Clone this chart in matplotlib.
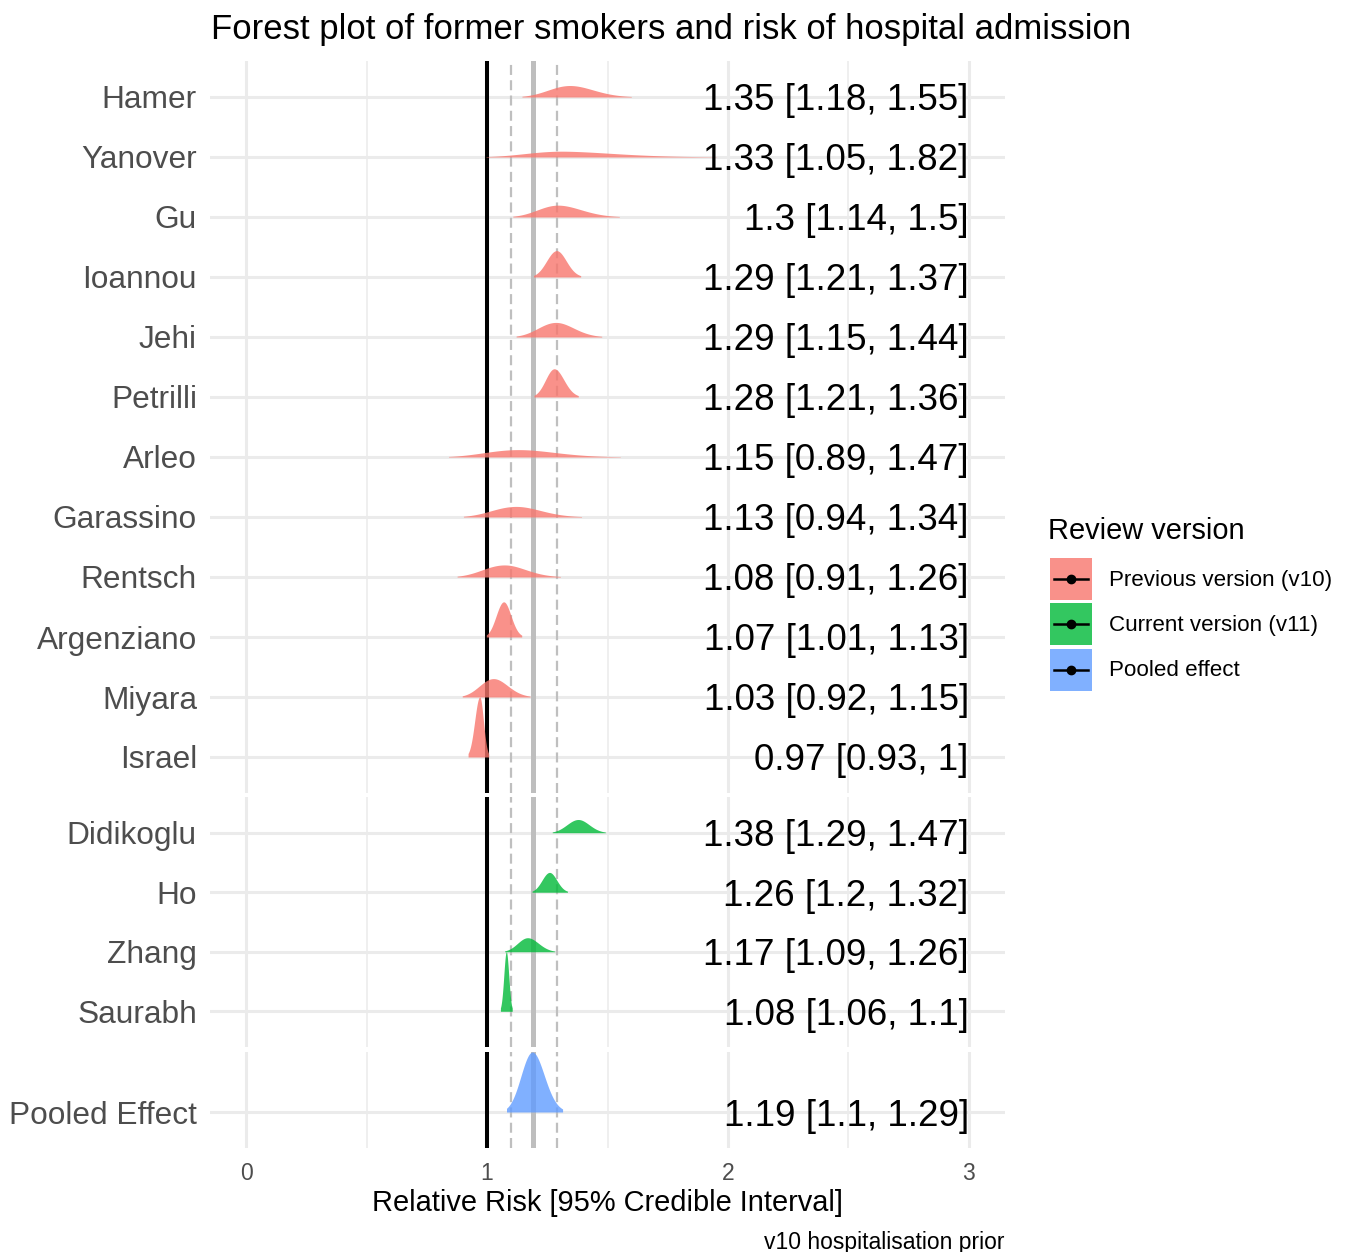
import matplotlib
matplotlib.use("Agg")
import matplotlib.pyplot as plt
from matplotlib.patches import Patch, Rectangle
from matplotlib.lines import Line2D
from matplotlib.legend_handler import HandlerBase
import numpy as np

plt.rcParams['font.family'] = ['Liberation Sans', 'DejaVu Sans']
plt.rcParams['lines.scale_dashes'] = False

# data: median relative risk and 95% credible interval
prev_studies = ["Hamer", "Yanover", "Gu", "Ioannou", "Jehi", "Petrilli", "Arleo",
                "Garassino", "Rentsch", "Argenziano", "Miyara", "Israel"]
prev_est = [1.35, 1.33, 1.30, 1.29, 1.29, 1.28, 1.15, 1.13, 1.08, 1.07, 1.03, 0.97]
prev_lo = [1.18, 1.05, 1.14, 1.21, 1.15, 1.21, 0.89, 0.94, 0.91, 1.01, 0.92, 0.93]
prev_hi = [1.55, 1.82, 1.50, 1.37, 1.44, 1.36, 1.47, 1.34, 1.26, 1.13, 1.15, 1.00]

curr_studies = ["Didikoglu", "Ho", "Zhang", "Saurabh"]
curr_est = [1.38, 1.26, 1.17, 1.08]
curr_lo = [1.29, 1.20, 1.09, 1.06]
curr_hi = [1.47, 1.32, 1.26, 1.10]

pooled_name = ["Pooled Effect"]
pooled_est = [1.19]
pooled_lo = [1.10]
pooled_hi = [1.29]

colors = {"prev": "#F8766D", "curr": "#00BA38", "pool": "#619CFF"}
legend_labels = ["Previous version (v10)", "Current version (v11)", "Pooled effect"]


def fmt(v):
    return "{:g}".format(v)


def density(est, lo, hi):
    # split normal on the log scale, transformed back to the RR scale
    mu = np.log(est)
    s_lo = (mu - np.log(lo)) / 1.96
    s_hi = (np.log(hi) - mu) / 1.96
    t = np.linspace(mu - 2.4 * s_lo, mu + 2.4 * s_hi, 400)
    s = np.where(t < mu, s_lo, s_hi)
    d = np.exp(-0.5 * ((t - mu) / s) ** 2) / np.exp(t) / (s_lo + s_hi)
    return np.exp(t), d


class KeyHandler(HandlerBase):
    # filled square with a pointrange glyph on top, like the ggplot key
    def create_artists(self, legend, orig_handle, xdescent, ydescent,
                       width, height, fontsize, trans):
        x0, y0 = -xdescent, -ydescent
        rect = Rectangle((x0, y0), width, height, facecolor=orig_handle.get_facecolor(),
                         edgecolor='none', transform=trans)
        ym = y0 + height / 2
        line = Line2D([x0 + 0.1 * width, x0 + 0.9 * width], [ym, ym], color='black',
                      lw=1.8, transform=trans)
        dot = Line2D([x0 + width / 2], [ym], marker='o', markersize=6, color='black',
                     linestyle='none', transform=trans)
        return [rect, line, dot]


W, H = 1351, 1252
fig = plt.figure(figsize=(W / 100, H / 100), dpi=100)

panels = [
    (prev_studies, prev_est, prev_lo, prev_hi, "prev", 61, 793, 12.6),
    (curr_studies, curr_est, curr_lo, curr_hi, "curr", 797, 1047, 4.6),
    (pooled_name, pooled_est, pooled_lo, pooled_hi, "pool", 1052, 1148, 2.0),
]

axes = []
for names, est, lo, hi, key, top, bottom, ytop in panels:
    ax = fig.add_axes([210 / W, 1 - bottom / H, 795 / W, (bottom - top) / H])
    axes.append(ax)
    n = len(names)
    ypos = np.arange(n, 0, -1)

    curves = [density(e, l, h) for e, l, h in zip(est, lo, hi)]
    dmax = max(c[1].max() for c in curves)

    for i, (xx, dd) in enumerate(curves):
        ax.fill_between(xx, ypos[i], ypos[i] + dd / dmax, color=colors[key],
                        alpha=0.8, linewidth=0, zorder=5 + i)
        lab = "%s [%s, %s]" % (fmt(est[i]), fmt(lo[i]), fmt(hi[i]))
        ax.text(3.0, ypos[i], lab, ha='right', va='center_baseline', fontsize=26.5,
                color='black', zorder=30)

    ax.axvline(1.0, color='black', lw=2.9, zorder=3)
    ax.axvline(pooled_est[0], color='#BEBEBE', lw=3.6, zorder=3)
    for v in [pooled_lo[0], pooled_hi[0]]:
        ax.axvline(v, color='#BFBFBF', lw=1.6, dashes=(7.2, 3.8), zorder=3)

    ax.set_xlim(-0.15, 3.15)
    ax.set_ylim(0.4, ytop)
    ax.set_yticks(ypos)
    ax.set_yticklabels(names, fontsize=22.8, color='#4D4D4D')
    ax.set_xticks([0, 1, 2, 3])
    ax.set_xticks([0.5, 1.5, 2.5], minor=True)
    ax.tick_params(axis='both', which='both', length=0)
    ax.tick_params(axis='y', pad=9.4)
    ax.grid(True, which='major', color='#EBEBEB', lw=2.2, zorder=0)
    ax.grid(True, which='minor', axis='x', color='#EBEBEB', lw=1.1, zorder=0)
    ax.set_axisbelow(True)
    for sp in ax.spines.values():
        sp.set_visible(False)
    ax.set_xticklabels([])

axes[-1].set_xticklabels(["0", "1", "2", "3"], fontsize=16.5, color='#4D4D4D')
axes[-1].tick_params(axis='x', pad=10)

fig.text(671 / W, 1 - 30 / H, "Forest plot of former smokers and risk of hospital admission",
         ha='center', va='center', fontsize=25)
fig.text(607.5 / W, 1 - 1203 / H, "Relative Risk [95% Credible Interval]",
         ha='center', va='center', fontsize=20.9)
fig.text(1005 / W, 1 - 1243 / H, "v10 hospitalisation prior",
         ha='right', va='center', fontsize=16.5)

# legend
fig.text(1048 / W, 1 - 531 / H, "Review version", ha='left', va='center', fontsize=20.9)
handles = [Patch(facecolor=colors[k], alpha=0.8) for k in ["prev", "curr", "pool"]]
import matplotlib.colors as mcolors
for h in handles:
    h.set_facecolor(mcolors.to_rgba(h.get_facecolor(), 0.8))
fig.legend(handles, legend_labels, handler_map={Patch: KeyHandler()},
           loc='upper left', bbox_to_anchor=(1050 / W, 1 - 558 / H),
           frameon=False, fontsize=16.1,
           handlelength=1.875, handleheight=2.51, handletextpad=0.76,
           labelspacing=0.15, borderpad=0, borderaxespad=0)

fig.savefig("out.png", dpi=100)
